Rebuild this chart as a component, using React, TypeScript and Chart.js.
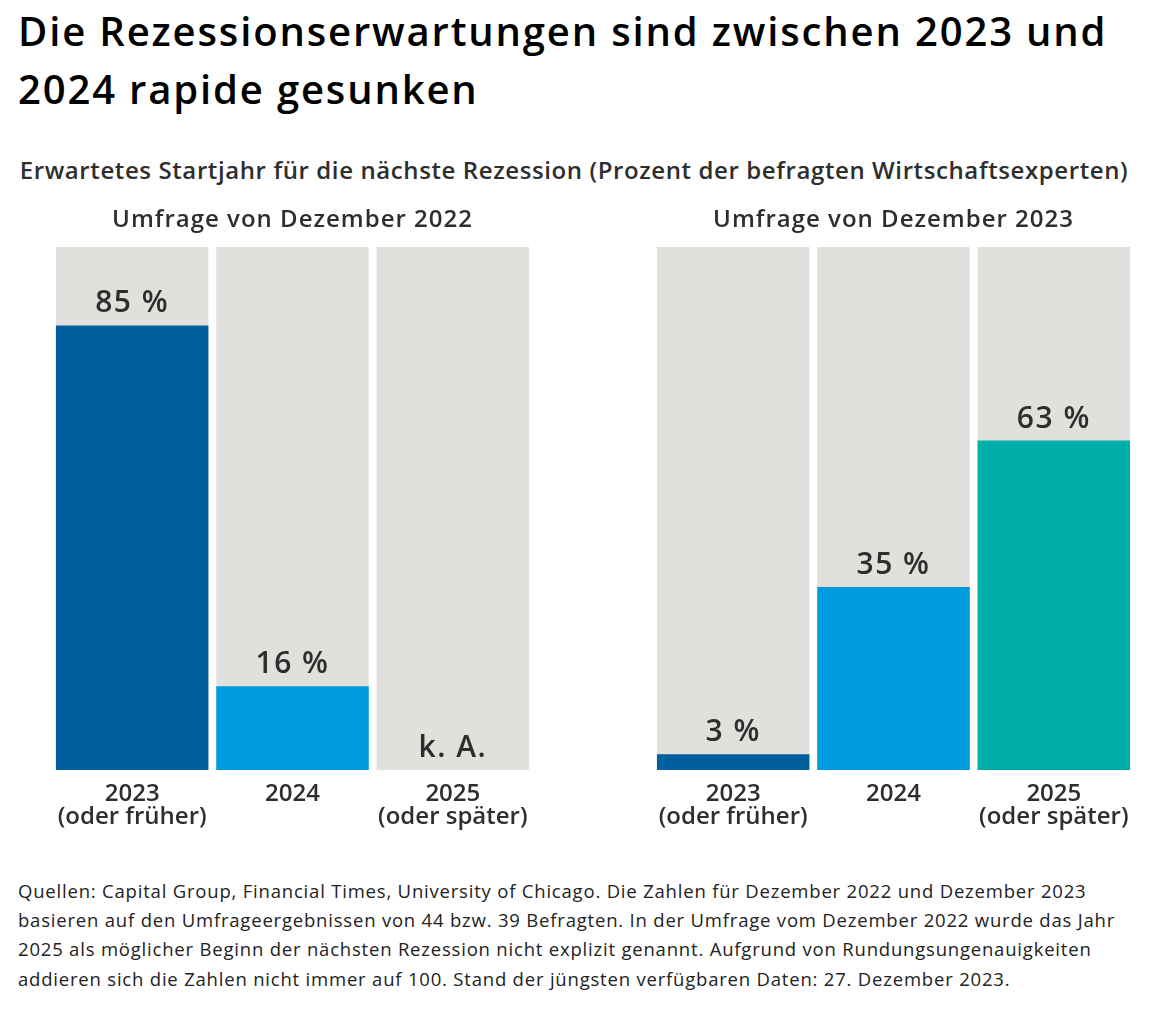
import React, { useEffect, useRef } from "react";
import { Chart, registerables } from "chart.js";

Chart.register(...registerables);

// ---- data ----
const CATEGORIES: string[][] = [["2023", "(oder früher)"], ["2024"], ["2025", "(oder später)"]];
const PANEL_TITLES = ["Umfrage von Dezember 2022", "Umfrage von Dezember 2023"];
const VALUES_DEC_2022: (number | null)[] = [85, 16, null];
const VALUES_DEC_2023: (number | null)[] = [3, 35, 63];
const BACKGROUND_VALUES = [100, 100, 100];
const NA_LABEL = "k. A.";
const Y_MIN = 0;
const Y_MAX = 100;

const TITLE_LINES = ["Die Rezessionserwartungen sind zwischen 2023 und", "2024 rapide gesunken"];
const SUBTITLE = "Erwartetes Startjahr für die nächste Rezession (Prozent der befragten Wirtschaftsexperten)";
const FOOTNOTE_LINES = [
  "Quellen: Capital Group, Financial Times, University of Chicago. Die Zahlen für Dezember 2022 und Dezember 2023",
  "basieren auf den Umfrageergebnissen von 44 bzw. 39 Befragten. In der Umfrage vom Dezember 2022 wurde das Jahr",
  "2025 als möglicher Beginn der nächsten Rezession nicht explizit genannt. Aufgrund von Rundungsungenauigkeiten",
  "addieren sich die Zahlen nicht immer auf 100. Stand der jüngsten verfügbaren Daten: 27. Dezember 2023.",
];

// ---- styles ----
const BAR_COLORS = ["#005f9e", "#009bde", "#00aea9"];
const BG_COLOR = "#e2e0dc";
const TEXT_DARK = "#2e2e2e";
const FONT = "'Open Sans', Lato, sans-serif";

const CANVAS_W = 481;
const CANVAS_H = 640;
const CHART_TOP_PAD = 41;

const panelTitlePlugin = {
  id: "panelTitle",
  afterDraw(chart: any, _args: any, opts: any) {
    const ctx = chart.ctx;
    ctx.save();
    ctx.font = `600 24px ${FONT}`;
    (ctx as any).letterSpacing = "1px";
    ctx.fillStyle = TEXT_DARK;
    ctx.textAlign = "center";
    ctx.textBaseline = "alphabetic";
    ctx.fillText(opts.text, chart.width / 2, 21);
    ctx.restore();
  },
};

const valueLabelPlugin = {
  id: "valueLabels",
  afterDatasetsDraw(chart: any) {
    const ctx = chart.ctx;
    const data = chart.data.datasets[0].data as (number | null)[];
    const yScale = chart.scales.y;
    ctx.save();
    ctx.font = `600 30px ${FONT}`;
    (ctx as any).letterSpacing = "1.5px";
    ctx.fillStyle = TEXT_DARK;
    ctx.textAlign = "center";
    ctx.textBaseline = "alphabetic";
    data.forEach((v, i) => {
      const x = chart.scales.x.getPixelForValue(i);
      const top = v == null ? yScale.getPixelForValue(Y_MIN) : yScale.getPixelForValue(v);
      const label = v == null ? NA_LABEL : `${v} %`;
      ctx.fillText(label, x, top - 13);
    });
    ctx.restore();
  },
};

function Panel({ title, values, left, top }: { title: string; values: (number | null)[]; left: number; top: number }) {
  const ref = useRef<HTMLCanvasElement | null>(null);
  useEffect(() => {
    if (!ref.current) return;
    const chart = new Chart(ref.current, {
      type: "bar",
      data: {
        labels: CATEGORIES,
        datasets: [
          {
            data: values,
            backgroundColor: BAR_COLORS,
            borderWidth: 0,
            order: 1,
            grouped: false,
            categoryPercentage: 1,
            barPercentage: 0.951,
          } as any,
          {
            data: BACKGROUND_VALUES,
            backgroundColor: BG_COLOR,
            borderWidth: 0,
            order: 2,
            grouped: false,
            categoryPercentage: 1,
            barPercentage: 0.951,
          } as any,
        ],
      },
      options: {
        responsive: false,
        animation: false,
        devicePixelRatio: 1,
        layout: { padding: { top: CHART_TOP_PAD, left: 0, right: 0, bottom: 0 } },
        plugins: {
          legend: { display: false },
          tooltip: { enabled: false },
          title: { display: false },
          panelTitle: { text: title },
        },
        scales: {
          x: {
            grid: { display: false, drawTicks: false },
            border: { display: false },
            ticks: {
              color: TEXT_DARK,
              font: { family: FONT, size: 24, weight: 600, lineHeight: 0.98 },
              padding: 12,
              maxRotation: 0,
              autoSkip: false,
            },
            afterFit(scale: any) {
              scale.height = 76;
              scale.paddingLeft = 0;
              scale.paddingRight = 0;
            },
          },
          y: {
            display: false,
            min: Y_MIN,
            max: Y_MAX,
          },
        },
      } as any,
      plugins: [valueLabelPlugin, panelTitlePlugin],
    });
    return () => chart.destroy();
  }, [title, values]);
  return (
    <canvas
      ref={ref}
      width={CANVAS_W}
      height={CANVAS_H}
      style={{ position: "absolute", left, top, width: CANVAS_W, height: CANVAS_H }}
    />
  );
}

export default function App() {
  return (
    <div
      style={{
        position: "absolute",
        left: 0,
        top: 0,
        width: 1160,
        height: 1013,
        background: "#ffffff",
        fontFamily: FONT,
        overflow: "hidden",
      }}
    >
      <div
        style={{
          position: "absolute",
          left: 18,
          top: 2,
          fontSize: 40,
          lineHeight: "57.5px",
          fontWeight: 600,
          letterSpacing: "1.85px",
          color: "#000",
          whiteSpace: "nowrap",
        }}
      >
        {TITLE_LINES.map((l, i) => (
          <div key={i}>{l}</div>
        ))}
      </div>
      <div
        style={{
          position: "absolute",
          left: 18,
          width: 1112,
          top: 154,
          fontSize: 24,
          lineHeight: "32px",
          fontWeight: 600,
          letterSpacing: "0.6px",
          color: TEXT_DARK,
          textAlign: "center",
          whiteSpace: "nowrap",
        }}
      >
        {SUBTITLE}
      </div>
      <Panel title={PANEL_TITLES[0]} values={VALUES_DEC_2022} left={52} top={206} />
      <Panel title={PANEL_TITLES[1]} values={VALUES_DEC_2023} left={653} top={206} />
      <div
        style={{
          position: "absolute",
          left: 18,
          top: 876,
          fontSize: 18.5,
          lineHeight: "29.2px",
          fontWeight: 400,
          letterSpacing: "0.8px",
          color: "#222",
          whiteSpace: "nowrap",
        }}
      >
        {FOOTNOTE_LINES.map((l, i) => (
          <div key={i}>{l}</div>
        ))}
      </div>
    </div>
  );
}
